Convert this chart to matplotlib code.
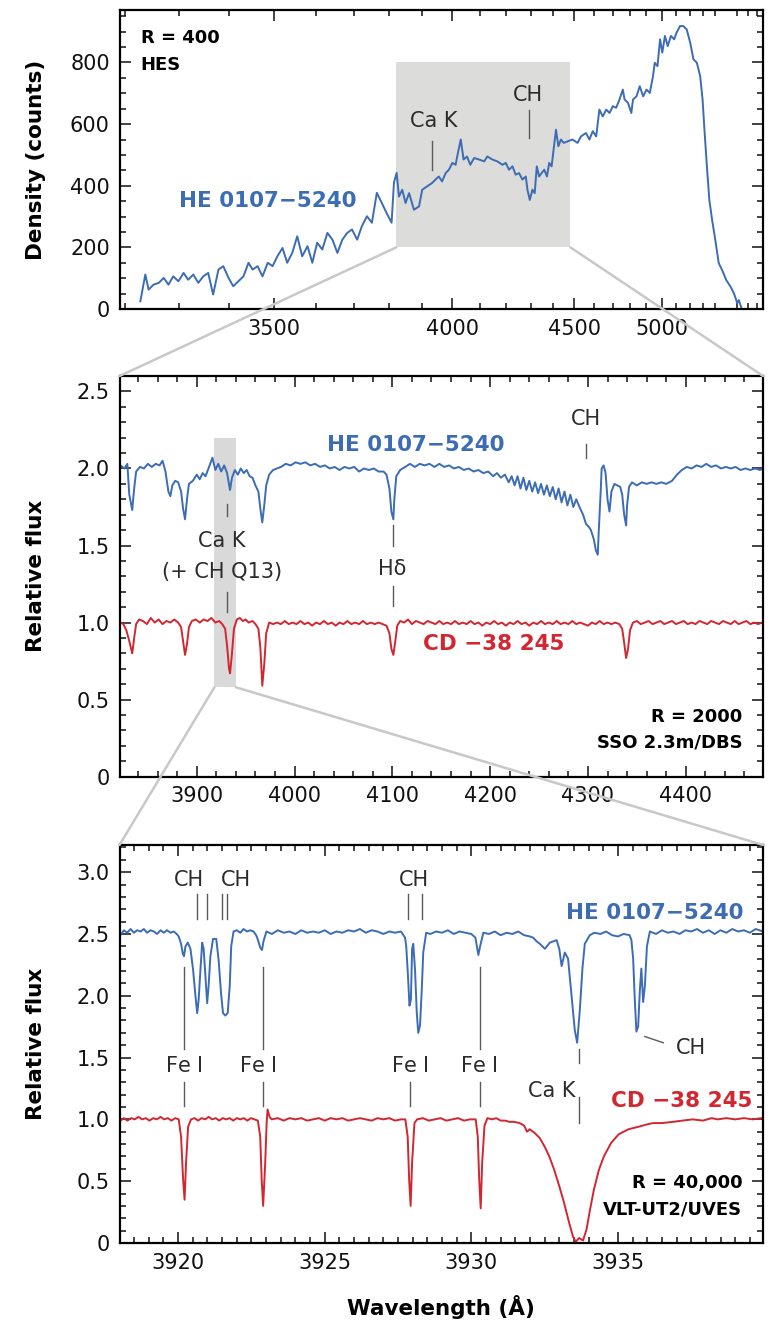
import matplotlib
matplotlib.use('Agg')
import numpy as np
import matplotlib.pyplot as plt
from matplotlib.patches import Rectangle, ConnectionPatch
from matplotlib.ticker import MultipleLocator, FixedLocator, FuncFormatter

plt.rcParams['font.family'] = ['DejaVu Sans']

BLUE = '#3b6cb4'
RED = '#d22630'
TXT = '#2b2b2b'
MARK = '#5a5a5a'

# ---- top panel: HES objective-prism spectrum (wavelength, counts)
hes_spec = [
    (3228, 25), (3237, 112), (3243, 63), (3252, 79), (3262, 85), (3271, 101), (3280, 79),
    (3289, 106), (3299, 90), (3309, 117), (3318, 95), (3328, 112), (3338, 85), (3348, 106),
    (3358, 117), (3368, 47), (3379, 128), (3389, 139), (3400, 101), (3410, 74), (3421, 90),
    (3432, 106), (3443, 150), (3452, 128), (3463, 139), (3474, 106), (3486, 150), (3497, 139),
    (3508, 171), (3520, 198), (3531, 150), (3543, 182), (3555, 236), (3567, 171), (3580, 204),
    (3592, 150), (3604, 215), (3617, 193), (3630, 247), (3643, 225), (3656, 182), (3669, 225),
    (3682, 247), (3695, 258), (3709, 225), (3722, 269), (3736, 301), (3750, 280), (3764, 377),
    (3778, 345), (3792, 312), (3807, 280), (3814, 410), (3822, 442), (3829, 365), (3839, 387),
    (3849, 344), (3860, 376), (3875, 322), (3891, 333), (3901, 387), (3917, 398), (3933, 409),
    (3944, 420), (3955, 430), (3966, 414), (3978, 441), (3989, 452), (4001, 474), (4012, 468),
    (4020, 506), (4030, 550), (4040, 485), (4052, 495), (4064, 468), (4078, 490), (4096, 485),
    (4115, 479), (4127, 495), (4146, 485), (4165, 479), (4185, 468), (4198, 474), (4211, 452),
    (4225, 463), (4238, 436), (4252, 441), (4266, 420), (4280, 430), (4287, 387), (4297, 354),
    (4308, 387), (4318, 376), (4327, 463), (4337, 430), (4348, 441), (4360, 452), (4372, 430),
    (4382, 474), (4393, 463), (4402, 517), (4413, 582), (4424, 528), (4436, 550), (4449, 539),
    (4468, 544), (4491, 550), (4516, 539), (4533, 560), (4558, 571), (4576, 550), (4593, 577),
    (4611, 560), (4628, 647), (4646, 625), (4665, 647), (4683, 636), (4701, 658), (4720, 653),
    (4739, 680), (4758, 712), (4768, 680), (4788, 669), (4808, 636), (4818, 680), (4839, 690),
    (4859, 723), (4880, 690), (4901, 712), (4922, 701), (4943, 756), (4954, 799), (4972, 788),
    (4989, 875), (5004, 832), (5022, 886), (5041, 853), (5063, 886), (5086, 875), (5103, 897),
    (5128, 918), (5152, 918), (5177, 907), (5203, 864), (5228, 810), (5254, 799), (5280, 756),
    (5299, 680), (5316, 571), (5334, 463), (5354, 354), (5377, 289), (5404, 224), (5433, 149),
    (5462, 127), (5499, 94), (5537, 73), (5569, 51), (5600, 19), (5615, 29), (5641, 2),
]

# ---- middle panel: R=2000 spectra (wavelength, relative flux)
mid_he = [
    (3822, 2.02), (3826, 2.00), (3829, 2.03), (3831, 1.83), (3834, 1.73), (3836, 1.87),
    (3838, 1.98), (3842, 2.01), (3846, 2.00), (3850, 2.03), (3854, 2.01), (3858, 2.03),
    (3862, 2.02), (3865, 2.05), (3868, 1.98), (3871, 1.85), (3873, 1.82), (3875, 1.89),
    (3878, 1.92), (3881, 1.91), (3884, 1.85), (3886, 1.74), (3888, 1.67), (3890, 1.80),
    (3892, 1.90), (3896, 1.92), (3900, 1.96), (3903, 1.93), (3906, 1.97), (3909, 1.95),
    (3912, 2.00), (3916, 2.07), (3919, 1.99), (3922, 2.03), (3925, 1.98), (3928, 2.02),
    (3931, 1.97), (3934, 1.86), (3936, 1.94), (3939, 1.99), (3942, 1.96), (3945, 2.00),
    (3948, 1.97), (3951, 1.99), (3954, 1.95), (3957, 1.94), (3960, 1.89), (3963, 1.85),
    (3965, 1.74), (3967, 1.65), (3969, 1.76), (3971, 1.89), (3974, 1.96), (3978, 1.99),
    (3982, 2.00), (3986, 2.01), (3991, 2.03), (3996, 2.02), (4001, 2.04), (4006, 2.03),
    (4011, 2.04), (4016, 2.02), (4021, 2.03), (4026, 2.01), (4031, 2.02), (4036, 2.00),
    (4041, 2.01), (4046, 1.99), (4051, 2.01), (4056, 2.00), (4061, 2.01), (4066, 1.98),
    (4071, 2.00), (4076, 1.99), (4081, 2.00), (4086, 1.98), (4091, 1.98), (4094, 1.96),
    (4097, 1.87), (4099, 1.72), (4101, 1.67), (4102, 1.80), (4104, 1.95), (4108, 1.99),
    (4113, 2.01), (4118, 2.03), (4123, 2.01), (4128, 2.03), (4133, 2.02), (4138, 2.03),
    (4143, 2.01), (4148, 2.03), (4153, 2.01), (4158, 2.02), (4163, 2.00), (4168, 2.01),
    (4173, 1.99), (4178, 2.00), (4183, 1.98), (4188, 1.99), (4193, 1.97), (4198, 1.98),
    (4203, 1.95), (4207, 1.97), (4211, 1.94), (4215, 1.96), (4219, 1.91), (4222, 1.95),
    (4225, 1.89), (4228, 1.95), (4231, 1.87), (4234, 1.94), (4237, 1.86), (4240, 1.92),
    (4243, 1.85), (4246, 1.91), (4249, 1.84), (4252, 1.90), (4255, 1.83), (4258, 1.89),
    (4261, 1.82), (4264, 1.88), (4267, 1.80), (4270, 1.87), (4273, 1.78), (4276, 1.85),
    (4279, 1.76), (4282, 1.83), (4285, 1.75), (4288, 1.80), (4292, 1.74), (4295, 1.70),
    (4298, 1.64), (4301, 1.62), (4303, 1.60), (4306, 1.54), (4308, 1.47), (4310, 1.44),
    (4311, 1.59), (4313, 1.85), (4314, 2.00), (4316, 2.02), (4318, 1.97), (4320, 1.80),
    (4322, 1.72), (4324, 1.85), (4327, 1.90), (4330, 1.89), (4333, 1.88), (4335, 1.83),
    (4337, 1.70), (4339, 1.63), (4340, 1.76), (4342, 1.88), (4345, 1.91), (4350, 1.89),
    (4355, 1.91), (4360, 1.90), (4365, 1.91), (4370, 1.90), (4375, 1.91), (4380, 1.90),
    (4386, 1.92), (4391, 1.96), (4396, 1.99), (4401, 2.01), (4406, 2.00), (4411, 2.02),
    (4416, 2.01), (4421, 2.03), (4426, 2.01), (4431, 2.02), (4436, 2.00), (4441, 2.01),
    (4446, 2.00), (4451, 2.01), (4456, 1.99), (4461, 2.00), (4466, 1.99), (4471, 2.00),
    (4476, 1.99), (4479, 2.00),
]

mid_cd = [
    (3822, 1.00), (3825, 0.99), (3828, 0.95), (3831, 0.88), (3834, 0.80), (3836, 0.90),
    (3838, 0.99), (3841, 1.02), (3845, 1.01), (3849, 0.99), (3853, 1.03), (3857, 1.00),
    (3861, 1.02), (3865, 0.99), (3869, 1.01), (3873, 1.00), (3877, 1.02), (3881, 1.00),
    (3884, 0.97), (3886, 0.88), (3888, 0.79), (3890, 0.86), (3892, 0.97), (3895, 1.01),
    (3899, 1.02), (3903, 1.00), (3907, 1.02), (3911, 1.01), (3915, 1.03), (3919, 1.00),
    (3923, 1.01), (3926, 0.99), (3929, 0.96), (3931, 0.85), (3933, 0.70), (3934, 0.67),
    (3936, 0.80), (3938, 0.96), (3941, 1.02), (3944, 1.03), (3947, 1.01), (3950, 1.02),
    (3953, 1.00), (3957, 1.01), (3960, 0.99), (3963, 0.96), (3965, 0.84), (3967, 0.59),
    (3969, 0.73), (3971, 0.93), (3974, 1.00), (3978, 0.99), (3982, 1.00), (3986, 0.99),
    (3990, 1.01), (3994, 0.99), (3998, 1.00), (4002, 0.99), (4006, 1.01), (4010, 0.99),
    (4014, 1.00), (4018, 0.98), (4022, 1.00), (4026, 0.99), (4030, 1.01), (4034, 0.99),
    (4038, 1.00), (4042, 0.98), (4046, 1.00), (4050, 0.99), (4054, 1.01), (4058, 0.99),
    (4062, 1.00), (4066, 0.99), (4070, 1.01), (4074, 0.99), (4078, 1.00), (4082, 0.99),
    (4086, 1.00), (4090, 0.99), (4094, 0.98), (4097, 0.93), (4099, 0.83), (4101, 0.79),
    (4103, 0.88), (4105, 0.98), (4108, 1.01), (4112, 1.00), (4116, 1.02), (4120, 0.99),
    (4124, 1.01), (4128, 1.00), (4132, 0.99), (4136, 1.01), (4140, 1.00), (4144, 0.99),
    (4148, 1.01), (4152, 0.99), (4156, 1.00), (4160, 0.99), (4164, 1.01), (4168, 0.99),
    (4172, 1.00), (4176, 0.99), (4180, 1.01), (4184, 0.99), (4188, 1.00), (4192, 0.98),
    (4196, 1.00), (4200, 0.99), (4204, 1.01), (4208, 0.99), (4212, 1.00), (4216, 0.98),
    (4220, 1.00), (4224, 0.99), (4228, 1.01), (4232, 0.99), (4236, 1.00), (4240, 0.98),
    (4244, 1.00), (4248, 0.99), (4252, 1.01), (4256, 0.99), (4260, 1.00), (4264, 0.99),
    (4268, 1.01), (4272, 0.99), (4276, 1.00), (4280, 0.99), (4284, 1.01), (4288, 0.99),
    (4292, 1.00), (4296, 0.99), (4300, 0.98), (4304, 1.00), (4308, 0.99), (4312, 1.01),
    (4316, 0.99), (4320, 1.00), (4324, 0.99), (4328, 1.00), (4332, 0.99), (4335, 0.96),
    (4337, 0.87), (4339, 0.77), (4341, 0.83), (4343, 0.95), (4346, 1.00), (4350, 1.01),
    (4354, 0.99), (4358, 1.00), (4362, 1.01), (4366, 0.99), (4370, 1.00), (4374, 1.01),
    (4378, 0.99), (4382, 1.00), (4386, 1.01), (4390, 0.99), (4394, 1.00), (4398, 1.01),
    (4402, 0.99), (4406, 1.00), (4410, 0.99), (4414, 1.01), (4418, 1.00), (4422, 0.99),
    (4426, 1.01), (4430, 1.00), (4434, 0.99), (4438, 1.01), (4442, 1.00), (4446, 0.99),
    (4450, 1.01), (4454, 0.99), (4458, 1.00), (4462, 1.01), (4466, 0.99), (4470, 1.00),
    (4474, 0.99), (4478, 1.00),
]

# ---- bottom panel: R=40,000 spectra (wavelength, relative flux)
uves_he = [
    (3918.03, 2.49), (3918.15, 2.53), (3918.26, 2.51), (3918.38, 2.54), (3918.49, 2.51),
    (3918.60, 2.53), (3918.72, 2.52), (3918.83, 2.54), (3918.94, 2.51), (3919.06, 2.53),
    (3919.17, 2.52), (3919.28, 2.50), (3919.40, 2.53), (3919.51, 2.51), (3919.62, 2.53),
    (3919.74, 2.51), (3919.85, 2.52), (3919.95, 2.50), (3920.02, 2.48), (3920.10, 2.42),
    (3920.16, 2.34), (3920.20, 2.32), (3920.25, 2.40), (3920.33, 2.43), (3920.42, 2.38),
    (3920.51, 2.21), (3920.59, 2.00), (3920.65, 1.86), (3920.70, 1.97), (3920.76, 2.21),
    (3920.82, 2.43), (3920.87, 2.38), (3920.93, 2.16), (3920.99, 1.94), (3921.04, 2.08),
    (3921.10, 2.32), (3921.19, 2.46), (3921.30, 2.46), (3921.38, 2.29), (3921.46, 2.03),
    (3921.53, 1.86), (3921.61, 1.84), (3921.69, 1.86), (3921.76, 2.08), (3921.81, 2.40),
    (3921.89, 2.52), (3922.00, 2.53), (3922.12, 2.51), (3922.23, 2.54), (3922.35, 2.52),
    (3922.46, 2.53), (3922.57, 2.52), (3922.66, 2.49), (3922.71, 2.46), (3922.80, 2.39),
    (3922.86, 2.37), (3922.91, 2.44), (3923.01, 2.52), (3923.20, 2.50), (3923.40, 2.53),
    (3923.60, 2.51), (3923.80, 2.52), (3924.00, 2.50), (3924.20, 2.53), (3924.40, 2.51),
    (3924.60, 2.52), (3924.80, 2.51), (3925.00, 2.53), (3925.20, 2.50), (3925.40, 2.52),
    (3925.60, 2.51), (3925.80, 2.53), (3926.00, 2.52), (3926.20, 2.54), (3926.40, 2.51),
    (3926.60, 2.53), (3926.80, 2.52), (3927.00, 2.50), (3927.20, 2.52), (3927.40, 2.51),
    (3927.60, 2.52), (3927.74, 2.47), (3927.78, 2.40), (3927.84, 2.16), (3927.89, 1.92),
    (3927.94, 1.97), (3927.98, 2.38), (3928.02, 2.42), (3928.08, 2.21), (3928.14, 1.86),
    (3928.19, 1.70), (3928.25, 1.76), (3928.31, 2.05), (3928.36, 2.35), (3928.46, 2.51),
    (3928.60, 2.50), (3928.80, 2.52), (3929.00, 2.51), (3929.20, 2.53), (3929.40, 2.50),
    (3929.60, 2.52), (3929.80, 2.51), (3930.00, 2.50), (3930.14, 2.47), (3930.24, 2.33),
    (3930.30, 2.40), (3930.41, 2.51), (3930.60, 2.50), (3930.80, 2.52), (3931.00, 2.49),
    (3931.20, 2.51), (3931.40, 2.50), (3931.60, 2.52), (3931.80, 2.49), (3932.00, 2.48),
    (3932.11, 2.47), (3932.23, 2.44), (3932.34, 2.42), (3932.51, 2.38), (3932.68, 2.43),
    (3932.91, 2.45), (3933.00, 2.38), (3933.08, 2.24), (3933.19, 2.35), (3933.30, 2.30),
    (3933.42, 2.00), (3933.53, 1.72), (3933.61, 1.62), (3933.70, 1.88), (3933.79, 2.22),
    (3933.87, 2.42), (3934.04, 2.49), (3934.20, 2.51), (3934.40, 2.50), (3934.60, 2.52),
    (3934.80, 2.49), (3935.00, 2.48), (3935.20, 2.50), (3935.40, 2.49), (3935.46, 2.45),
    (3935.52, 2.30), (3935.57, 2.00), (3935.63, 1.71), (3935.69, 1.75), (3935.75, 2.05),
    (3935.80, 2.22), (3935.86, 1.95), (3935.92, 2.08), (3935.99, 2.40), (3936.09, 2.52),
    (3936.30, 2.50), (3936.50, 2.53), (3936.70, 2.51), (3936.90, 2.52), (3937.10, 2.50),
    (3937.30, 2.53), (3937.50, 2.52), (3937.70, 2.54), (3937.90, 2.51), (3938.10, 2.53),
    (3938.30, 2.50), (3938.50, 2.53), (3938.70, 2.51), (3938.90, 2.54), (3939.10, 2.52),
    (3939.30, 2.53), (3939.50, 2.51), (3939.70, 2.54), (3939.95, 2.52),
]

uves_cd = [
    (3918.03, 0.99), (3918.15, 1.01), (3918.27, 0.99), (3918.40, 1.01), (3918.52, 1.00),
    (3918.65, 1.02), (3918.77, 1.00), (3918.90, 1.01), (3919.02, 0.99), (3919.15, 1.01),
    (3919.27, 1.00), (3919.40, 1.02), (3919.52, 1.00), (3919.65, 1.01), (3919.77, 0.99),
    (3919.90, 1.01), (3920.02, 1.00), (3920.10, 0.86), (3920.17, 0.51), (3920.22, 0.35),
    (3920.27, 0.65), (3920.34, 0.94), (3920.44, 1.00), (3920.56, 1.01), (3920.68, 0.99),
    (3920.80, 1.01), (3920.92, 1.00), (3921.04, 1.02), (3921.16, 1.00), (3921.28, 1.01),
    (3921.40, 0.99), (3921.52, 1.01), (3921.64, 1.00), (3921.76, 1.01), (3921.88, 0.99),
    (3922.00, 1.01), (3922.12, 1.00), (3922.24, 1.01), (3922.36, 0.99), (3922.48, 1.01),
    (3922.60, 1.00), (3922.72, 0.99), (3922.80, 0.86), (3922.85, 0.51), (3922.90, 0.30),
    (3922.97, 0.65), (3923.02, 0.98), (3923.05, 1.08), (3923.12, 1.02), (3923.19, 1.00),
    (3923.40, 1.01), (3923.60, 0.99), (3923.80, 1.01), (3924.00, 1.00), (3924.20, 1.01),
    (3924.40, 0.99), (3924.60, 1.00), (3924.80, 1.01), (3925.00, 0.99), (3925.20, 1.01),
    (3925.40, 1.00), (3925.60, 1.01), (3925.80, 0.99), (3926.00, 1.00), (3926.20, 1.01),
    (3926.40, 1.00), (3926.60, 0.99), (3926.80, 1.01), (3927.00, 1.00), (3927.20, 1.01),
    (3927.40, 0.99), (3927.60, 1.00), (3927.75, 1.00), (3927.83, 0.86), (3927.88, 0.51),
    (3927.93, 0.30), (3927.98, 0.65), (3928.06, 0.97), (3928.15, 1.00), (3928.35, 1.01),
    (3928.55, 0.99), (3928.75, 1.00), (3928.95, 1.01), (3929.15, 0.99), (3929.35, 1.00),
    (3929.55, 1.01), (3929.75, 0.99), (3929.95, 1.00), (3930.15, 1.00), (3930.22, 0.86),
    (3930.27, 0.51), (3930.32, 0.28), (3930.37, 0.65), (3930.45, 0.95), (3930.55, 1.01),
    (3930.70, 1.00), (3930.85, 1.01), (3931.00, 0.99), (3931.15, 0.99), (3931.30, 0.98),
    (3931.45, 0.98), (3931.65, 0.97), (3931.80, 0.95), (3931.90, 0.90), (3931.99, 0.92),
    (3932.16, 0.89), (3932.33, 0.85), (3932.50, 0.78), (3932.66, 0.70), (3932.83, 0.59),
    (3933.00, 0.46), (3933.17, 0.32), (3933.34, 0.16), (3933.47, 0.05), (3933.56, 0.01),
    (3933.68, 0.04), (3933.81, 0.02), (3933.93, 0.11), (3934.05, 0.27), (3934.18, 0.43),
    (3934.35, 0.59), (3934.52, 0.70), (3934.77, 0.81), (3935.03, 0.88), (3935.36, 0.92),
    (3935.70, 0.94), (3936.00, 0.96), (3936.20, 0.97), (3936.50, 0.97), (3936.88, 0.98),
    (3937.20, 0.99), (3937.55, 1.00), (3937.90, 0.99), (3938.20, 1.01), (3938.40, 1.00),
    (3938.70, 1.01), (3939.00, 1.00), (3939.30, 1.01), (3939.60, 1.00), (3939.90, 1.01),
]

# zoom regions (wavelength range, flux range)
top_box = (3821, 4481, 200, 800)
mid_box = (3918, 3940, 0.58, 2.20)

# line identifications: (label, text x, text y, [(x, y0, y1), ...])
top_ids = [
    ('Ca K', 3940, 609, [(3933, 452, 544)]),
    ('CH', 4287, 696, [(4294, 555, 647)]),
]
mid_ids = [
    ('CH', 4298, 2.32, [(4298, 2.07, 2.16)]),
    ('H\u03b4', 4100, 1.35, [(4101, 1.50, 1.63), (4101, 1.11, 1.24)]),
]
bot_ids = [
    ('CH', 3920.38, 2.94, [(3920.65, 2.62, 2.82), (3920.99, 2.62, 2.82)]),
    ('CH', 3921.98, 2.94, [(3921.50, 2.62, 2.82), (3921.67, 2.62, 2.82)]),
    ('CH', 3928.05, 2.94, [(3927.85, 2.62, 2.82), (3928.31, 2.62, 2.82)]),
    ('Fe $\\mathrm{I}$', 3920.19, 1.43, [(3920.20, 1.57, 2.23), (3920.20, 1.11, 1.30)]),
    ('Fe $\\mathrm{I}$', 3922.72, 1.43, [(3922.88, 1.57, 2.23), (3922.88, 1.11, 1.30)]),
    ('Fe $\\mathrm{I}$', 3927.91, 1.43, [(3927.90, 1.11, 1.30)]),
    ('Fe $\\mathrm{I}$', 3930.27, 1.43, [(3930.30, 1.57, 2.23), (3930.30, 1.11, 1.30)]),
    ('Ca K', 3932.75, 1.23, [(3933.66, 1.46, 1.57), (3933.66, 0.97, 1.18)]),
]


def prism_fwd(w):
    w = np.asarray(w, dtype=float)
    return -1e8 / np.clip(w, 100.0, None) ** 2


def prism_inv(u):
    u = np.asarray(u, dtype=float)
    return 1e4 / np.sqrt(np.clip(-u, 1e-6, None))


def style(ax, fmt):
    for s in ax.spines.values():
        s.set_linewidth(1.6)
    ax.tick_params(which='both', direction='in', top=True, right=True,
                   width=1.1, labelsize=15, colors='#111111', pad=7)
    ax.tick_params(which='major', length=8)
    ax.tick_params(which='minor', length=4)
    ax.yaxis.set_major_formatter(FuncFormatter(fmt))


def flux_fmt(v, pos):
    return '0' if abs(v) < 1e-9 else f'{v:.1f}'


def draw_ids(ax, ids, fs=15):
    for label, tx, ty, marks in ids:
        ax.text(tx, ty, label, ha='center', va='center', fontsize=fs, color=TXT)
        for mx, y0, y1 in marks:
            ax.plot([mx, mx], [y0, y1], color=MARK, lw=1.0)


fig = plt.figure(figsize=(7.73, 13.24), dpi=100)
ax1 = fig.add_axes([0.1546, 0.7666, 0.8325, 0.2258])
ax2 = fig.add_axes([0.1546, 0.4134, 0.8325, 0.3026])
ax3 = fig.add_axes([0.1546, 0.0612, 0.8325, 0.3006])

# top panel
w, c = np.array(hes_spec).T
ax1.set_xscale('function', functions=(prism_fwd, prism_inv))
ax1.add_patch(Rectangle((top_box[0], top_box[2]), top_box[1] - top_box[0],
                        top_box[3] - top_box[2], color='#dcdcda', lw=0, zorder=0))
ax1.plot(w, c, color=BLUE, lw=1.4)
ax1.set_xlim(3191, 5860)
ax1.set_ylim(0, 970)
ax1.xaxis.set_major_locator(FixedLocator([3500, 4000, 4500, 5000]))
ax1.xaxis.set_minor_locator(FixedLocator([v for v in range(3200, 5900, 100) if v % 500]))
ax1.xaxis.set_major_formatter(FuncFormatter(lambda v, p: f'{v:.0f}'))
ax1.xaxis.set_minor_formatter(FuncFormatter(lambda v, p: ''))
ax1.yaxis.set_major_locator(MultipleLocator(200))
ax1.yaxis.set_minor_locator(MultipleLocator(50))
style(ax1, lambda v, p: f'{v:.0f}')
ax1.set_ylabel('Density (counts)', fontsize=15.5, fontweight='bold')
ax1.yaxis.set_label_coords(-0.115, 0.5)
ax1.text(0.033, 0.906, 'R = 400', transform=ax1.transAxes, fontsize=13,
         fontweight='bold', va='center', ha='left')
ax1.text(0.033, 0.816, 'HES', transform=ax1.transAxes, fontsize=13,
         fontweight='bold', va='center', ha='left')
ax1.text(3486, 349, 'HE 0107\u22125240', color=BLUE, fontsize=15.5,
         fontweight='bold', ha='center', va='center')
draw_ids(ax1, top_ids)

# middle panel
ax2.add_patch(Rectangle((mid_box[0], mid_box[2]), mid_box[1] - mid_box[0],
                        mid_box[3] - mid_box[2], color='#d9d9d9', lw=0, zorder=0))
w, f = np.array(mid_he).T
ax2.plot(w, f, color=BLUE, lw=1.4)
w, f = np.array(mid_cd).T
ax2.plot(w, f, color=RED, lw=1.4)
ax2.set_xlim(3821, 4479)
ax2.set_ylim(0, 2.6)
ax2.xaxis.set_major_locator(MultipleLocator(100))
ax2.xaxis.set_minor_locator(MultipleLocator(20))
ax2.yaxis.set_major_locator(MultipleLocator(0.5))
ax2.yaxis.set_minor_locator(MultipleLocator(0.1))
style(ax2, flux_fmt)
ax2.set_ylabel('Relative flux', fontsize=15.5, fontweight='bold')
ax2.yaxis.set_label_coords(-0.115, 0.5)
ax2.text(4124, 2.15, 'HE 0107\u22125240', color=BLUE, fontsize=15.5,
         fontweight='bold', ha='center', va='center')
ax2.text(4204, 0.86, 'CD \u221238 245', color=RED, fontsize=15.5,
         fontweight='bold', ha='center', va='center')
ax2.text(3926, 1.53, 'Ca K', ha='center', va='center', fontsize=15, color=TXT)
ax2.text(3926, 1.33, '(+ CH Q13)', ha='center', va='center', fontsize=15, color=TXT)
ax2.plot([3931, 3931], [1.69, 1.77], color=MARK, lw=1.0)
ax2.plot([3931, 3931], [1.07, 1.20], color=MARK, lw=1.0)
draw_ids(ax2, mid_ids)
ax2.text(0.968, 0.15, 'R = 2000', transform=ax2.transAxes, fontsize=13,
         fontweight='bold', ha='right', va='center')
ax2.text(0.968, 0.085, 'SSO 2.3m/DBS', transform=ax2.transAxes, fontsize=13,
         fontweight='bold', ha='right', va='center')

# bottom panel
w, f = np.array(uves_he).T
ax3.plot(w, f, color=BLUE, lw=1.4)
w, f = np.array(uves_cd).T
ax3.plot(w, f, color=RED, lw=1.4)
ax3.set_xlim(3918, 3939.95)
ax3.set_ylim(0, 3.22)
ax3.xaxis.set_major_locator(MultipleLocator(5))
ax3.xaxis.set_minor_locator(MultipleLocator(0.5))
ax3.yaxis.set_major_locator(MultipleLocator(0.5))
ax3.yaxis.set_minor_locator(MultipleLocator(0.1))
ax3.xaxis.set_major_formatter(FuncFormatter(lambda v, p: f'{v:.0f}'))
style(ax3, flux_fmt)
ax3.set_ylabel('Relative flux', fontsize=15.5, fontweight='bold')
ax3.yaxis.set_label_coords(-0.115, 0.5)
ax3.set_xlabel('Wavelength (\u00c5)', fontsize=15.5, fontweight='bold', labelpad=16)
ax3.text(3939.3, 2.67, 'HE 0107\u22125240', color=BLUE, fontsize=15.5,
         fontweight='bold', ha='right', va='center')
ax3.text(3939.6, 1.15, 'CD \u221238 245', color=RED, fontsize=15.5,
         fontweight='bold', ha='right', va='center')
draw_ids(ax3, bot_ids)
ax3.text(3937.5, 1.58, 'CH', ha='center', va='center', fontsize=15, color=TXT)
ax3.plot([3935.92, 3936.55], [1.67, 1.62], color=MARK, lw=1.0)
ax3.text(0.968, 0.15, 'R = 40,000', transform=ax3.transAxes, fontsize=13,
         fontweight='bold', ha='right', va='center')
ax3.text(0.968, 0.084, 'VLT-UT2/UVES', transform=ax3.transAxes, fontsize=13,
         fontweight='bold', ha='right', va='center')

# zoom connectors
for (xa, ya), xb in [((top_box[0], top_box[2]), 0), ((top_box[1], top_box[2]), 1)]:
    fig.add_artist(ConnectionPatch((xa, ya), (xb, 1), coordsA=ax1.transData,
                                   coordsB=ax2.transAxes, color='#c8c8c8', lw=1.8))
for (xa, ya), xb in [((mid_box[0], mid_box[2]), 0), ((mid_box[1], mid_box[2]), 1)]:
    fig.add_artist(ConnectionPatch((xa, ya), (xb, 1), coordsA=ax2.transData,
                                   coordsB=ax3.transAxes, color='#c8c8c8', lw=1.8))

fig.savefig('out.png', dpi=100)
